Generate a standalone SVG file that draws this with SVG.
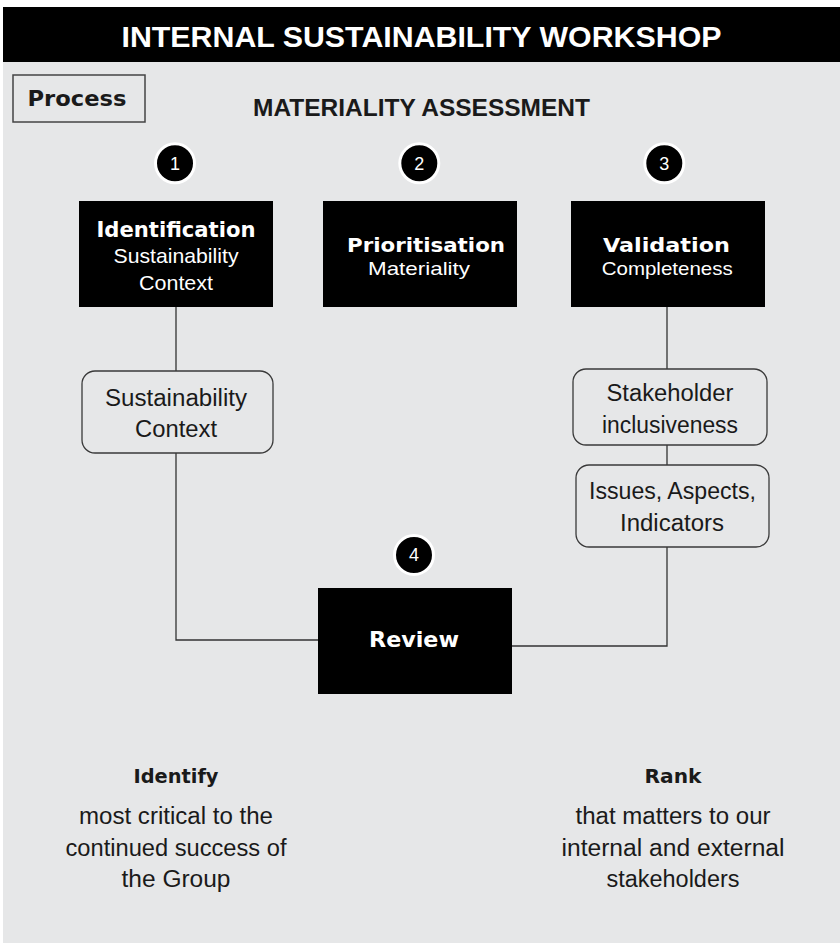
<svg xmlns="http://www.w3.org/2000/svg" width="840" height="943" viewBox="0 0 840 943">
<style>
.bg{fill:#e6e7e8}
.blk{fill:#000}
.rbox{fill:none;stroke:#3a3a3a;stroke-width:1.3}
.conn{fill:none;stroke:#333;stroke-width:1.3}
.num{fill:#000;stroke:#fff;stroke-width:3}
.numt{fill:#fff;font-family:"Liberation Sans",Arial,sans-serif;font-size:18px;text-anchor:middle}
.cap{font-family:"Liberation Sans",Arial,sans-serif;font-weight:bold;text-anchor:middle}
.tb{font-family:"DejaVu Sans",Verdana,sans-serif;font-weight:bold;text-anchor:middle}
.tr{font-family:"Liberation Sans",Arial,sans-serif;text-anchor:middle}
.w{fill:#fff}
.d{fill:#1a1a1a}
</style>
<rect x="0" y="0" width="840" height="943" fill="#fff"/>
<rect class="bg" x="3" y="7" width="837" height="936"/>
<g id="header">
<rect class="blk" x="3" y="7" width="837" height="55"/>
<text class="cap w" x="421.5" y="47" font-size="30" textLength="600" lengthAdjust="spacingAndGlyphs">INTERNAL SUSTAINABILITY WORKSHOP</text>
</g>
<g id="process">
<rect x="13" y="75" width="132" height="47" fill="none" stroke="#444" stroke-width="1.5"/>
<text class="tb d" x="77" y="106" font-size="22" textLength="99" lengthAdjust="spacingAndGlyphs">Process</text>
</g>
<g id="title">
<text class="cap d" x="421.5" y="116" font-size="24" textLength="337" lengthAdjust="spacingAndGlyphs">MATERIALITY ASSESSMENT</text>
</g>
<g id="connectors">
<path class="conn" d="M176 307 V371 M176 453 V640 H318"/>
<path class="conn" d="M667 307 V369 M667 445 V465 M667 547 V646 H512"/>
</g>
<g id="step1">
<circle class="num" cx="175" cy="163.3" r="19.5"/>
<text class="numt" x="175" y="170">1</text>
</g>
<g id="step2">
<circle class="num" cx="419.3" cy="163.3" r="19.5"/>
<text class="numt" x="419.3" y="170">2</text>
</g>
<g id="step3">
<circle class="num" cx="664.3" cy="163.3" r="19.5"/>
<text class="numt" x="664.3" y="170">3</text>
</g>
<g id="step4">
<circle class="num" cx="414" cy="555" r="19.5"/>
<text class="numt" x="414" y="561" font-size="16">4</text>
</g>
<g id="identification">
<rect class="blk" x="79" y="201" width="194" height="106"/>
<text class="tb w" x="176" y="237" font-size="21" textLength="159" lengthAdjust="spacingAndGlyphs">Identification</text>
<text class="tr w" x="176" y="263" font-size="21" textLength="125" lengthAdjust="spacingAndGlyphs">Sustainability</text>
<text class="tr w" x="176" y="290" font-size="21" textLength="74" lengthAdjust="spacingAndGlyphs">Context</text>
</g>
<g id="prioritisation">
<rect class="blk" x="323" y="201" width="194" height="106"/>
<text class="tb w" x="426" y="252" font-size="20" textLength="158" lengthAdjust="spacingAndGlyphs">Prioritisation</text>
<text class="tr w" x="419" y="274.5" font-size="19" textLength="102" lengthAdjust="spacingAndGlyphs">Materiality</text>
</g>
<g id="validation">
<rect class="blk" x="571" y="201" width="194" height="106"/>
<text class="tb w" x="666.4" y="252" font-size="20" textLength="127" lengthAdjust="spacingAndGlyphs">Validation</text>
<text class="tr w" x="667.2" y="274.5" font-size="19" textLength="131" lengthAdjust="spacingAndGlyphs">Completeness</text>
</g>
<g id="review">
<rect class="blk" x="318" y="588" width="194" height="106"/>
<text class="tb w" x="414" y="647" font-size="22" textLength="90" lengthAdjust="spacingAndGlyphs">Review</text>
</g>
<g id="sustainability-context">
<rect class="rbox" x="82" y="371" width="191" height="82" rx="13"/>
<text class="tr d" x="176" y="406" font-size="23" textLength="142" lengthAdjust="spacingAndGlyphs">Sustainability</text>
<text class="tr d" x="176" y="437" font-size="23" textLength="82" lengthAdjust="spacingAndGlyphs">Context</text>
</g>
<g id="stakeholder-inclusiveness">
<rect class="rbox" x="573" y="369" width="194" height="76" rx="13"/>
<text class="tr d" x="670" y="401" font-size="23" textLength="127" lengthAdjust="spacingAndGlyphs">Stakeholder</text>
<text class="tr d" x="670" y="433" font-size="23" textLength="136" lengthAdjust="spacingAndGlyphs">inclusiveness</text>
</g>
<g id="issues-aspects-indicators">
<rect class="rbox" x="576" y="465" width="193" height="82" rx="13"/>
<text class="tr d" x="672.5" y="499" font-size="23" textLength="167" lengthAdjust="spacingAndGlyphs">Issues, Aspects,</text>
<text class="tr d" x="672" y="531" font-size="23" textLength="104" lengthAdjust="spacingAndGlyphs">Indicators</text>
</g>
<g id="identify">
<text class="tb d" x="176" y="783" font-size="19.5" textLength="85" lengthAdjust="spacingAndGlyphs">Identify</text>
<text class="tr d" x="176" y="824" font-size="23" textLength="194" lengthAdjust="spacingAndGlyphs">most critical to the</text>
<text class="tr d" x="176" y="856" font-size="23" textLength="221" lengthAdjust="spacingAndGlyphs">continued success of</text>
<text class="tr d" x="176" y="887" font-size="23" textLength="109" lengthAdjust="spacingAndGlyphs">the Group</text>
</g>
<g id="rank">
<text class="tb d" x="673" y="783" font-size="20" textLength="57" lengthAdjust="spacingAndGlyphs">Rank</text>
<text class="tr d" x="673" y="824" font-size="23" textLength="195" lengthAdjust="spacingAndGlyphs">that matters to our</text>
<text class="tr d" x="673" y="856" font-size="23" textLength="223" lengthAdjust="spacingAndGlyphs">internal and external</text>
<text class="tr d" x="673" y="887" font-size="23" textLength="133" lengthAdjust="spacingAndGlyphs">stakeholders</text>
</g>
</svg>
